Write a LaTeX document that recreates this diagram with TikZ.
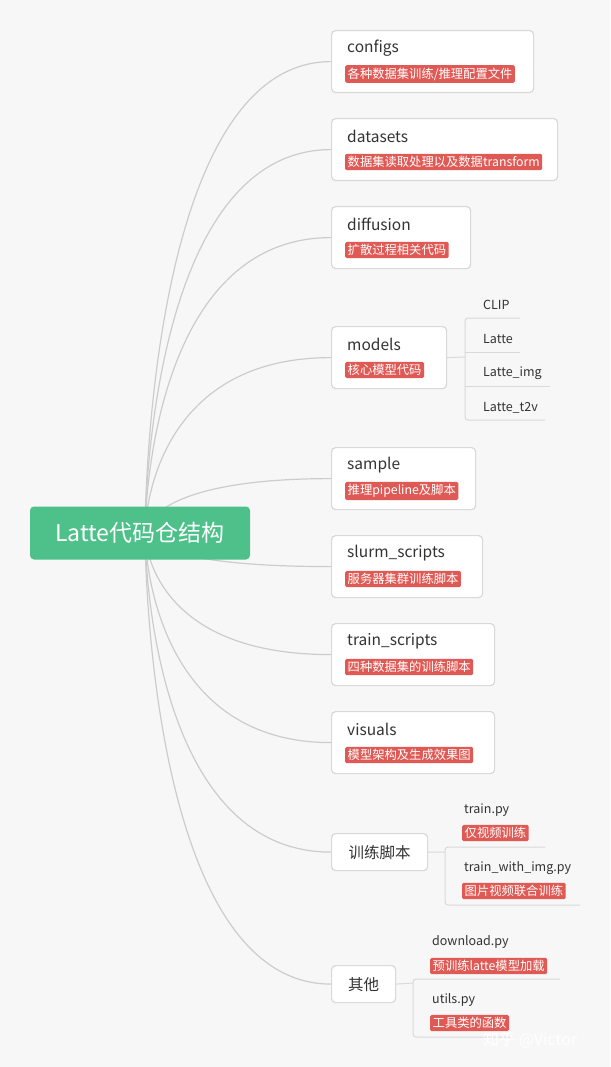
\documentclass[tikz,border=0pt]{standalone}
\usepackage{fontspec}
\setmainfont{Noto Sans CJK SC}
\begin{document}
\begin{tikzpicture}[x=1pt,y=-1pt,
 box/.style={draw=black!15,line width=1.2pt,fill=white,rounded corners=4pt,anchor=north west,inner sep=0pt},
 ttl/.style={anchor=west,inner sep=0pt,font=\fontsize{15.5}{15.5}\selectfont,text=black!80},
 sub/.style={anchor=west,inner sep=0pt,font=\fontsize{12.5}{12.5}\selectfont,text=black!80},
 tag/.style={anchor=west,fill=tagred,text=white,inner sep=2.5pt,rounded corners=1.5pt,font=\fontsize{12.3}{12.5}\selectfont},
 con/.style={draw=black!20,line width=1.2pt},
 und/.style={draw=black!15,line width=1pt,rounded corners=3pt}]
\definecolor{tagred}{HTML}{E05A55}
\definecolor{rootg}{HTML}{4EC18A}
\fill[black!3] (0,0) rectangle (610,1067);
\useasboundingbox (0,0) rectangle (610,1067);
\coordinate (o) at (145,533);
% boxes
\node[box,minimum width=202,minimum height=62] (b1) at (331,30) {};
\node[box,minimum width=226,minimum height=62] (b2) at (331,118) {};
\node[box,minimum width=139,minimum height=62] (b3) at (331,206) {};
\node[box,minimum width=115,minimum height=62] (b4) at (331,326) {};
\node[box,minimum width=144,minimum height=62] (b5) at (331,447) {};
\node[box,minimum width=151,minimum height=62] (b6) at (331,535) {};
\node[box,minimum width=163,minimum height=62] (b7) at (331,623) {};
\node[box,minimum width=163,minimum height=62] (b8) at (331,711) {};
\node[box,minimum width=96,minimum height=37] (b9) at (331,833) {};
\node[box,minimum width=64,minimum height=37] (b10) at (331,965) {};
% connectors
\foreach \b in {b1,b2,b3,b4,b5,b6,b7,b8,b9,b10}
  \draw[con] (o) .. controls (145,533) and (o |- \b.west) .. (\b.west);
% root
\node[fill=rootg,rounded corners=4pt,minimum width=220,minimum height=53,text=white,font=\fontsize{23}{23}\selectfont] (root) at (140,533) {Latte代码仓结构};
% titles and tags
\node[ttl] (t1) at (347,48) {configs};
\node[tag] (g1) at (345,74) {各种数据集训练/推理配置文件};
\node[ttl] (t2) at (347,136) {datasets};
\node[tag] (g2) at (345,162) {数据集读取处理以及数据transform};
\node[ttl] (t3) at (347,224) {diffusion};
\node[tag] (g3) at (345,250) {扩散过程相关代码};
\node[ttl] (t4) at (347,344) {models};
\node[tag] (g4) at (345,370) {核心模型代码};
\node[ttl] (t5) at (347,465) {sample};
\node[tag] (g5) at (345,491) {推理pipeline及脚本};
\node[ttl] (t6) at (347,553) {slurm\_scripts};
\node[tag] (g6) at (345,579) {服务器集群训练脚本};
\node[ttl] (t7) at (347,641) {train\_scripts};
\node[tag] (g7) at (345,667) {四种数据集的训练脚本};
\node[ttl] (t8) at (347,729) {visuals};
\node[tag] (g8) at (345,755) {模型架构及生成效果图};
\node[ttl,anchor=center] (t9) at (b9.center) {训练脚本};
\node[ttl,anchor=center] (t10) at (b10.center) {其他};
% models children
\coordinate (m) at (465,357);
\draw[und] (b4.east) -- (m);
\node[sub] (c1) at (483,305) {CLIP};
\node[sub] (c2) at (483,339) {Latte};
\node[sub] (c3) at (483,373) {Latte\_img};
\node[sub] (c4) at (483,408) {Latte\_t2v};
\coordinate (u1) at (520,318);
\coordinate (u2) at (520,352);
\coordinate (u3) at (550,386);
\coordinate (u4) at (545,420);
\draw[und] (u1) -- (465,318) -- (465,420) -- (u4);
\draw[und] (465,352) -- (u2);
\draw[und] (465,386) -- (u3);
% training children
\draw[und] (b9.east) -- (445,852);
\node[sub] (d1) at (464,810) {train.py};
\node[tag] (e1) at (462,833) {仅视频训练};
\node[sub] (d2) at (464,868) {train\_with\_img.py};
\node[tag] (e2) at (462,891) {图片视频联合训练};
\coordinate (v1) at (545,847);
\coordinate (v2) at (580,905);
\draw[und] (v1) -- (445,847) -- (445,905) -- (v2);
% other children
\draw[und] (b10.east) -- (413,983);
\node[sub] (f1) at (432,942) {download.py};
\node[tag] (h1) at (430,966) {预训练latte模型加载};
\node[sub] (f2) at (432,1000) {utils.py};
\node[tag] (h2) at (430,1023) {工具类的函数};
\coordinate (w1) at (560,979);
\coordinate (w2) at (510,1037);
\draw[und] (w1) -- (413,979) -- (413,1037) -- (w2);
% watermark
\node[anchor=west,text=white,font=\fontsize{16}{16}\selectfont,inner sep=0pt] (wm) at (483,1040) {知乎 @Victor};
\end{tikzpicture}
\end{document}
